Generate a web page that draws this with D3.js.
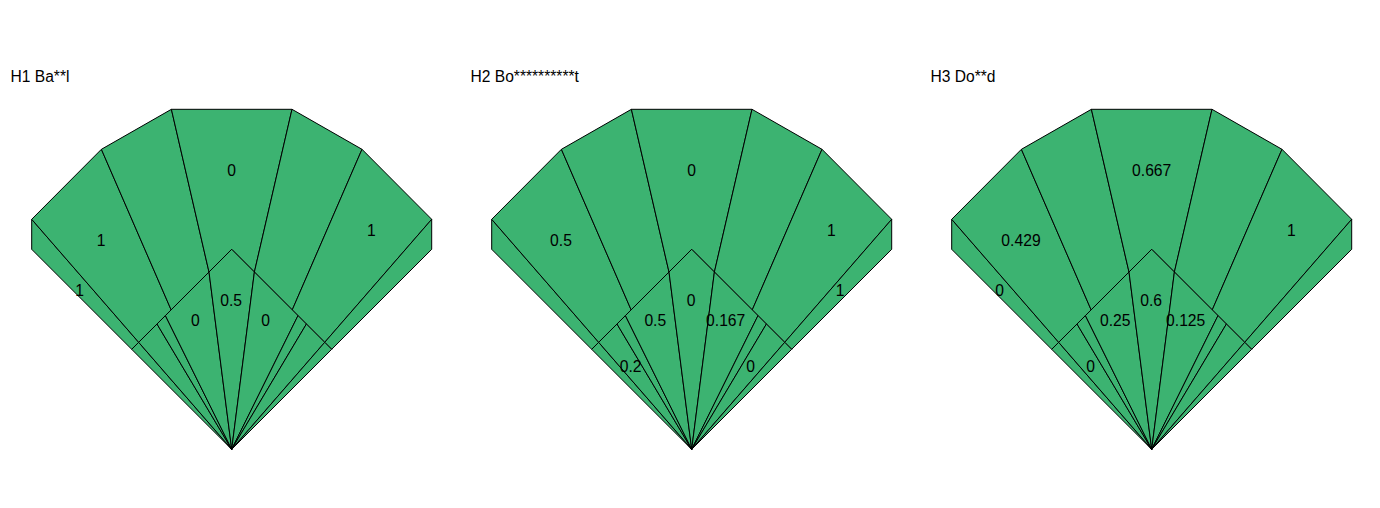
<!DOCTYPE html>
<html>
<head>
<meta charset="utf-8">
<script src="https://cdn.jsdelivr.net/npm/d3@7"></script>
<style>
  html, body { margin: 0; padding: 0; background: #ffffff; }
  svg { display: block; }
  text { font-family: Arial, "Liberation Sans", sans-serif; fill: #000; }
</style>
</head>
<body>
<div id="chart"></div>
<script>
// ---------- data ----------
const panelTitles = ["H1 Ba**l", "H2 Bo**********t", "H3 Do**d"];
const zoneNames = ["LL", "LF", "LCF", "CF", "RCF", "RF", "RL",
                   "iLL", "iL2", "iL3", "iL4", "iC", "iR4", "iR3", "iR2", "iRL"];
const h1Values = [1, 1, null, 0, null, 1, null,
                  null, null, null, 0, 0.5, 0, null, null, null];
const h2Values = [null, 0.5, null, 0, null, 1, 1,
                  null, 0.2, null, 0.5, 0, 0.167, null, 0, null];
const h3Values = [0, 0.429, null, 0.667, null, 1, null,
                  null, 0, null, 0.25, 0.6, 0.125, null, null, null];
const panelValues = [h1Values, h2Values, h3Values];

// ---------- field geometry (home plate at origin, y up) ----------
const A = 200;           // foul line end
const Btop = 230;        // corner post top
const C = [130.3, 300];
const D = [60.3, 340];
const apex = 200;        // infield apex (boundary: y = apex - |x|)
function onBoundary(x) { return [x, apex - Math.abs(x)]; }
// intersection of ray from home through point p with infield boundary
function rayHitBoundary(p) {
  const s = apex / (p[1] + Math.abs(p[0]));
  return [p[0] * s, p[1] * s];
}
function side(sgn) {
  const H = [0, 0];
  const Af = [sgn * A, A];
  const B = [sgn * A, Btop];
  const Cp = [sgn * C[0], C[1]];
  const Dp = [sgn * D[0], D[1]];
  const F = [sgn * 100, 100];
  const G = rayHitBoundary(B);
  const E = rayHitBoundary(Cp);
  const K = onBoundary(sgn * 22.7);
  const M1 = onBoundary(sgn * 74.7);
  const M2 = onBoundary(sgn * 66.3);
  return {H, Af, B, Cp, Dp, F, G, E, K, M1, M2};
}
const L = side(-1), R = side(1);
const P = [0, apex];
const zoneGeom = {
  LL:  {poly: [L.Af, L.B, L.G, L.F], at: [-152, 159]},
  LF:  {poly: [L.B, L.Cp, L.E, L.G], at: [-130.7, 208.7]},
  LCF: {poly: [L.Cp, L.Dp, L.K, L.E], at: [-80, 230]},
  CF:  {poly: [L.Dp, R.Dp, R.K, P, L.K], at: [0, 279.3]},
  RCF: {poly: [R.Cp, R.Dp, R.K, R.E], at: [80, 230]},
  RF:  {poly: [R.B, R.Cp, R.E, R.G], at: [139.7, 218.6]},
  RL:  {poly: [R.Af, R.B, R.G, R.F], at: [148.5, 159.3]},
  iLL: {poly: [L.H, L.F, L.G], at: [-90, 100]},
  iL2: {poly: [L.H, L.G, L.M1], at: [-61, 82.7]},
  iL3: {poly: [L.H, L.M1, L.M2], at: [-60, 110]},
  iL4: {poly: [L.H, L.M2, L.K], at: [-36.4, 129.3]},
  iC:  {poly: [L.H, L.K, P, R.K], at: [-0.6, 149.3]},
  iR4: {poly: [R.H, R.K, R.M2], at: [34, 129.3]},
  iR3: {poly: [R.H, R.M2, R.M1], at: [60, 110]},
  iR2: {poly: [R.H, R.M1, R.G], at: [59, 82.7]},
  iRL: {poly: [R.H, R.G, R.F], at: [90, 100]}
};

// ---------- drawing ----------
const W = 1380, Hh = 508;
const panelW = 460;
const svg = d3.select("#chart").append("svg")
  .attr("width", W).attr("height", Hh)
  .attr("viewBox", `0 0 ${W} ${Hh}`);
svg.append("rect").attr("width", W).attr("height", Hh).attr("fill", "#fff");

const panelScale = d3.scaleBand().domain(d3.range(panelTitles.length))
  .range([0, panelW * panelTitles.length]).padding(0);
const x = d3.scaleLinear().domain([-231.7, 228.3]).range([0, panelW]);
const y = d3.scaleLinear().domain([0, 340]).range([449.3, 109.3]);
const line = d3.line().x(d => x(d[0])).y(d => y(d[1]));

panelTitles.forEach((title, i) => {
  const g = svg.append("g").attr("transform", `translate(${panelScale(i)},0)`);
  const vals = panelValues[i];
  const zones = zoneNames.map((z, k) => ({name: z, value: vals[k], geom: zoneGeom[z]}));

  g.selectAll("path.zone").data(zones).join("path")
    .attr("class", "zone")
    .attr("d", d => line(d.geom.poly) + "Z")
    .attr("fill", "#3CB371")
    .attr("stroke", "#000")
    .attr("stroke-width", 1)
    .attr("stroke-linejoin", "miter");

  g.selectAll("text.val").data(zones.filter(d => d.value !== null)).join("text")
    .attr("class", "val")
    .attr("x", d => x(d.geom.at[0]))
    .attr("y", d => y(d.geom.at[1]))
    .attr("dy", "0.36em")
    .attr("text-anchor", "middle")
    .attr("font-size", 15.7)
    .text(d => String(d.value));

  g.append("text")
    .attr("x", 10.5)
    .attr("y", 82)
    .attr("font-size", 15.6)
    .text(title);
});
</script>
</body>
</html>
